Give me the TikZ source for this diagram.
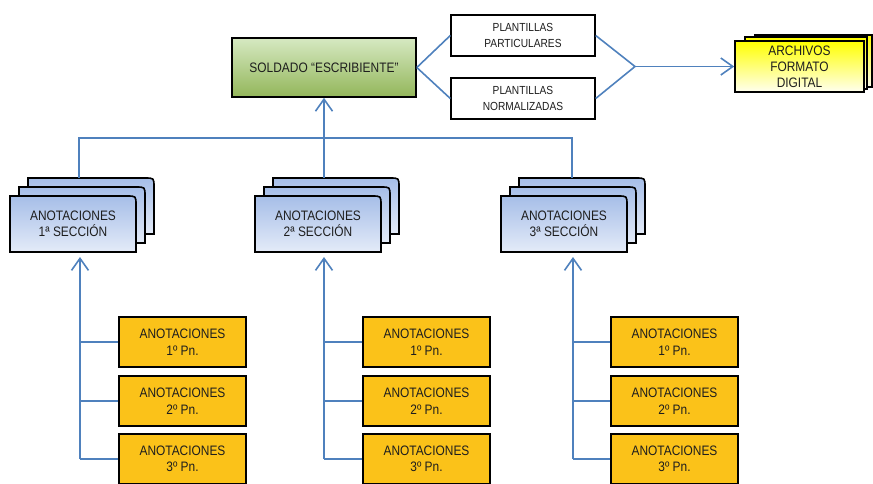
\documentclass[tikz,border=0pt]{standalone}
\usepackage{fontspec}
\setmainfont[FakeStretch=0.87]{Liberation Sans}
\usetikzlibrary{arrows.meta}
\definecolor{conn}{RGB}{79,129,189}
\definecolor{gtop}{RGB}{214,233,194}
\definecolor{gbot}{RGB}{147,182,90}
\definecolor{btop}{RGB}{166,190,232}
\definecolor{bbot}{RGB}{228,235,248}
\definecolor{gold}{RGB}{251,194,25}
\definecolor{ink}{RGB}{30,30,30}
\tikzset{
  conn/.style={draw=conn, line width=1.6pt},
  arr/.style={-{Straight Barb[length=12pt,width=17pt,line width=1.6pt]}},
  txt/.style={text=ink, align=center, inner sep=0pt, font=\fontsize{13.7}{16.5}\selectfont},
  greenbox/.style={txt, draw=black, line width=1.6pt, top color=gtop, bottom color=gbot},
  whitebox/.style={txt, draw=black, line width=1.4pt, fill=white, font=\fontsize{11.7}{16}\selectfont},
  goldbox/.style={txt, draw=black, line width=1.6pt, fill=gold, minimum width=127pt, minimum height=50pt},
  secfill/.style={draw=black, line width=1.6pt, top color=btop, bottom color=bbot},
  yelfill/.style={draw=black, line width=1.6pt, top color=yellow, middle color=yellow, bottom color=yellow!6}
}
\newcommand\stackbox[4]{%
  \foreach \d in {18,9,0}{%
    \path[secfill] ({#1+\d},{#2-\d+56}) -- ({#1+\d},{#2-\d}) -- ({#1+\d+117},{#2-\d})
      .. controls ({#1+\d+126},{#2-\d}) .. ({#1+\d+126},{#2-\d+9}) -- ({#1+\d+126},{#2-\d+56}) -- cycle;
  }%
  \node[txt, minimum width=126pt, minimum height=56pt] (#3) at ({#1+63},{#2+28}) {#4};
}
\begin{document}
\begin{tikzpicture}[x=1pt,y=-1pt]
\useasboundingbox (0,0) rectangle (873,483);

% top row
\node[greenbox, minimum width=184pt, minimum height=59pt] (sold) at (324,67.5) {SOLDADO “ESCRIBIENTE”};
\node[whitebox, minimum width=144pt, minimum height=41pt] (pp) at (523,35.5) {PLANTILLAS\\PARTICULARES};
\node[whitebox, minimum width=144pt, minimum height=41pt] (pn) at (523,98.5) {PLANTILLAS\\NORMALIZADAS};

% archivos stack
\path[yelfill] (755,35) rectangle (872,87);
\path[yelfill] (745,37) rectangle (867,89);
\node[txt, draw=black, line width=1.6pt, top color=yellow, middle color=yellow, bottom color=yellow!6,
      minimum width=129pt, minimum height=51pt, font=\fontsize{13.7}{16}\selectfont] (arch) at (799.5,66.5) {ARCHIVOS\\FORMATO\\DIGITAL};

\coordinate (join) at (635,66.5);
\draw[conn] (sold.east) -- (pp.west);
\draw[conn] (sold.east) -- (pn.west);
\draw[conn] (pp.east) -- (join) -- (pn.east);
\draw[conn,arr] (join) -- (arch.west);

% section stacks
\stackbox{10}{196}{s1}{ANOTACIONES\\1ª SECCIÓN}
\stackbox{255}{196}{s2}{ANOTACIONES\\2ª SECCIÓN}
\stackbox{501}{196}{s3}{ANOTACIONES\\3ª SECCIÓN}

\coordinate (t1) at (79,178);
\coordinate (t2) at (324,178);
\coordinate (t3) at (572,178);
\coordinate (hl) at (0,138);
\draw[conn] (t1) -- (t1|-hl) -- (t3|-hl) -- (t3);
\draw[conn] (t2) -- (t2|-hl);
\draw[conn,arr] (sold.south|-hl) -- (sold.south);

% gold boxes
\foreach \sx/\bx/\k in {119/80/1, 363/324/2, 611/573/3}{
  \node[goldbox] (p\k a) at ({\sx+63.5},342) {ANOTACIONES\\1º Pn.};
  \node[goldbox] (p\k b) at ({\sx+63.5},401) {ANOTACIONES\\2º Pn.};
  \node[goldbox] (p\k c) at ({\sx+63.5},459) {ANOTACIONES\\3º Pn.};
  \coordinate (v\k) at (\bx,257);
  \draw[conn] (p\k c.west) -- (p\k c.west-|v\k);
  \draw[conn,arr] (p\k c.west-|v\k) -- (v\k);
  \draw[conn] (p\k a.west) -- (p\k a.west-|v\k);
  \draw[conn] (p\k b.west) -- (p\k b.west-|v\k);
}
\end{tikzpicture}
\end{document}
